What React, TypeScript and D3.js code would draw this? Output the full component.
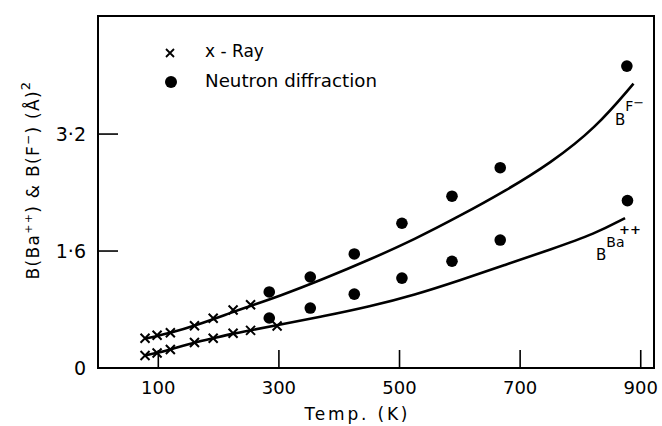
import React from "react";
import * as d3 from "d3";

// X-ray points (crosses)
const xrayTempF = [78, 98, 120, 160, 191, 224, 253];
const xrayBF = [0.406, 0.447, 0.483, 0.577, 0.68, 0.793, 0.866];
const xrayTempBa = [78, 98, 120, 160, 191, 224, 253, 297];
const xrayBBa = [0.171, 0.205, 0.253, 0.349, 0.406, 0.475, 0.515, 0.575];

// Neutron diffraction points (dots)
const neutronTempF = [284, 352, 425, 504, 587, 667, 877];
const neutronBF = [1.04, 1.245, 1.56, 1.98, 2.35, 2.74, 4.13];
const neutronTempBa = [284, 352, 425, 504, 587, 667, 878];
const neutronBBa = [0.684, 0.82, 1.01, 1.23, 1.46, 1.75, 2.29];

// Theoretical curves
const curveTempF = [78, 120, 160, 225, 253, 300, 375, 450, 525, 600, 675, 750, 825, 888];
const curveBF = [0.4, 0.48, 0.575, 0.77, 0.85, 0.98, 1.22, 1.48, 1.76, 2.08, 2.42, 2.8, 3.28, 3.89];
const curveTempBa = [78, 98, 120, 160, 191, 224, 253, 297, 375, 450, 525, 600, 675, 750, 825, 874];
const curveBBa = [0.171, 0.205, 0.253, 0.349, 0.406, 0.47, 0.515, 0.585, 0.71, 0.84, 1.0, 1.2, 1.41, 1.62, 1.84, 2.05];

const xTicks = [100, 300, 500, 700, 900];
const yTicks = [0, 1.6, 3.2];
const yTickLabels = ["0", "1·6", "3·2"];

const FONT = "'DejaVu Sans', sans-serif";

export default function App() {
  const left = 98, right = 654, top = 16, bottom = 368;
  const x = d3.scaleLinear().domain([0, 922]).range([left, right]);
  const y = d3.scaleLinear().domain([0, 4.815]).range([bottom, top]);

  const line = d3
    .line<[number, number]>()
    .x((d) => x(d[0]))
    .y((d) => y(d[1]))
    .curve(d3.curveBasis);

  const fCurve = curveTempF.map((t, i) => [t, curveBF[i]] as [number, number]);
  const baCurve = curveTempBa.map((t, i) => [t, curveBBa[i]] as [number, number]);

  const cross = (cx: number, cy: number, s: number) =>
    `M${cx - s},${cy - s}L${cx + s},${cy + s}M${cx - s},${cy + s}L${cx + s},${cy - s}`;

  const crossesF = xrayTempF.map((t, i) => [t, xrayBF[i]]);
  const crossesBa = xrayTempBa.map((t, i) => [t, xrayBBa[i]]);
  const dotsF = neutronTempF.map((t, i) => [t, neutronBF[i]]);
  const dotsBa = neutronTempBa.map((t, i) => [t, neutronBBa[i]]);

  return (
    <svg width={662} height={426} style={{ position: "absolute", left: 0, top: 0, background: "#fff" }} fontFamily={FONT}>
      <rect x={0} y={0} width={662} height={426} fill="#fff" />
      {/* frame */}
      <rect x={left} y={top} width={right - left} height={bottom - top} fill="none" stroke="#000" strokeWidth={2} />
      {/* x ticks */}
      {xTicks.map((t) => (
        <g key={"xt" + t}>
          <line x1={x(t)} x2={x(t)} y1={bottom} y2={bottom - 18} stroke="#000" strokeWidth={1.6} />
          <text x={x(t)} y={394} textAnchor="middle" fontSize={18}>
            {t}
          </text>
        </g>
      ))}
      {/* y ticks */}
      {yTicks.map((v, i) => (
        <g key={"yt" + v}>
          {v > 0 && <line x1={left} x2={left + 20} y1={y(v)} y2={y(v)} stroke="#000" strokeWidth={1.6} />}
          <text x={86} y={y(v) + 7} textAnchor="end" fontSize={19}>
            {yTickLabels[i]}
          </text>
        </g>
      ))}
      {/* curves */}
      <path d={line(fCurve) || ""} fill="none" stroke="#000" strokeWidth={2.6} />
      <path d={line(baCurve) || ""} fill="none" stroke="#000" strokeWidth={2.6} />
      {/* crosses */}
      {[...crossesF, ...crossesBa].map((d, i) => (
        <path key={"c" + i} d={cross(x(d[0]), y(d[1]), 4.5)} stroke="#000" strokeWidth={2} fill="none" />
      ))}
      {/* dots */}
      {[...dotsF, ...dotsBa].map((d, i) => (
        <circle key={"d" + i} cx={x(d[0])} cy={y(d[1])} r={5.8} fill="#000" />
      ))}
      {/* legend */}
      <path d={cross(170, 53, 4)} stroke="#000" strokeWidth={1.8} fill="none" />
      <text x={205} y={57} fontSize={17}>x - Ray</text>
      <circle cx={171} cy={82} r={6} fill="#000" />
      <text x={205} y={87} fontSize={17} textLength={172} lengthAdjust="spacingAndGlyphs">
        Neutron diffraction
      </text>
      {/* curve labels */}
      <text x={615} y={125} fontSize={15}>
        B<tspan dy={-14} fontSize={14}>F</tspan>
        <tspan dy={-4} fontSize={13}>−</tspan>
      </text>
      <text x={596} y={260} fontSize={15}>
        B<tspan dy={-13} fontSize={14}>Ba</tspan>
      </text>
      <text x={619} y={234} fontSize={13} fontWeight="bold">++</text>
      {/* axis titles */}
      <text x={356} y={420} textAnchor="middle" fontSize={17} textLength={103} lengthAdjust="spacing">
        Temp. (K)
      </text>
      <text transform="translate(39,180) rotate(-90)" textAnchor="middle" fontSize={17} letterSpacing={1.3}>
        B(Ba<tspan dy={-7} fontSize={11}>++</tspan>
        <tspan dy={7}>) &amp; B(F</tspan>
        <tspan dy={-7} fontSize={12}>−</tspan>
        <tspan dy={7}>) (Å)</tspan>
        <tspan dy={-9} fontSize={13}>2</tspan>
      </text>
    </svg>
  );
}
